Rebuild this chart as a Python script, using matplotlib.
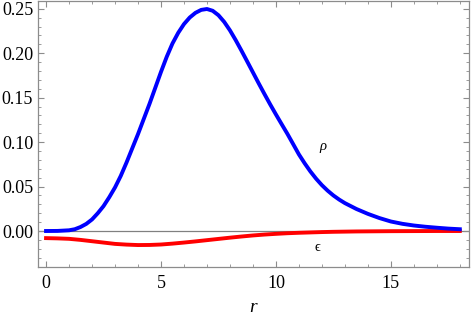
import matplotlib.pyplot as plt
from matplotlib.ticker import MultipleLocator

# values
r = [0, 0.5, 1, 1.25, 1.5, 1.75, 2, 2.25, 2.5, 2.75, 3, 3.25, 3.5, 3.75, 4,
     4.25, 4.5, 4.75, 5, 5.25, 5.5, 5.75, 6, 6.25, 6.5, 6.75, 7, 7.25, 7.5,
     7.75, 8, 8.25, 8.5, 8.75, 9, 9.25, 9.5, 9.75, 10, 10.25, 10.5, 10.75, 11,
     11.25, 11.5, 11.75, 12, 12.25, 12.5, 12.75, 13, 13.5, 14, 14.5, 15, 15.5,
     16, 16.5, 17, 17.5, 18]
rho = [0.0, 0.0001, 0.0008, 0.002, 0.0045, 0.008, 0.013, 0.020, 0.028, 0.038,
       0.049, 0.062, 0.077, 0.093, 0.109, 0.126, 0.143, 0.161, 0.179, 0.196,
       0.211, 0.223, 0.2328, 0.2402, 0.2455, 0.2488, 0.2498, 0.2478, 0.2428,
       0.2353, 0.2258, 0.2148, 0.2030, 0.1908, 0.1785, 0.1662, 0.1542, 0.1425,
       0.1312, 0.1202, 0.1093, 0.0978, 0.0862, 0.0762, 0.0670, 0.0588, 0.0516,
       0.0454, 0.0400, 0.0354, 0.0314, 0.0248, 0.0193, 0.0146, 0.0107, 0.0081,
       0.0062, 0.0048, 0.0037, 0.0027, 0.0020]
r_eps = [0, 0.5, 1, 1.5, 2, 2.5, 3, 3.5, 4, 4.5, 5, 5.5, 6, 6.5, 7, 7.5, 8,
         8.5, 9, 9.5, 10, 10.5, 11, 11.5, 12, 12.5, 13, 13.5, 14, 14.5, 15,
         15.5, 16, 16.5, 17, 17.5, 18]
eps = [-0.0080, -0.0083, -0.0088, -0.0100, -0.0115, -0.0130, -0.0145, -0.0153,
       -0.0158, -0.0157, -0.0152, -0.0142, -0.0130, -0.0117, -0.0103, -0.0089,
       -0.0075, -0.0062, -0.0050, -0.0040, -0.0032, -0.0025, -0.0020, -0.0016,
       -0.0012, -0.0009, -0.0007, -0.0005, -0.0004, -0.0003, -0.0002, -0.00015,
       -0.0001, -0.00005, 0.0, 0.0, 0.0]

SERIF = ["Liberation Serif", "DejaVu Serif"]
GRAY = "#8c8c8c"

plt.rcParams["font.family"] = SERIF

fig = plt.figure(figsize=(4.71, 3.30), dpi=100)
ax = fig.add_axes([38 / 471, 63 / 330, 431 / 471, 266 / 330])

ax.axhline(0, color="#808080", lw=0.9, zorder=1)
ax.plot(r, rho, color=(0, 0, 1), lw=2.8, solid_joinstyle="round", zorder=3)
ax.plot(r_eps, eps, color=(1, 0, 0), lw=2.8, solid_joinstyle="round", zorder=2)

ax.text(12.06, 0.0946, "\u03c1", fontsize=10.5, style="italic",
        ha="center", va="center", family=SERIF)
ax.text(11.8, -0.018, "\u03f5", fontsize=10.5,
        ha="center", va="center", family=SERIF)

ax.set_xlim(-0.35, 18.4)
ax.set_ylim(-0.0405, 0.2588)
ax.xaxis.set_major_locator(MultipleLocator(5))
ax.xaxis.set_minor_locator(MultipleLocator(1))
ax.yaxis.set_major_locator(MultipleLocator(0.05))
ax.yaxis.set_minor_locator(MultipleLocator(0.01))
ax.yaxis.set_major_formatter(plt.FuncFormatter(lambda v, p: f"{v:.2f}"))

for s in ax.spines.values():
    s.set_color(GRAY)
    s.set_linewidth(0.9)

ax.tick_params(which="both", direction="in", top=True, right=True,
               color=GRAY, labelsize=13, labelcolor="black")
ax.tick_params(which="major", length=4.0, width=0.8)
ax.tick_params(which="minor", length=2.2, width=0.6)
ax.tick_params(axis="x", pad=6)
ax.tick_params(axis="y", pad=3.5)

ax.set_xlabel("r", fontsize=14, style="italic", labelpad=5)

fig.savefig("out.png", dpi=100)
